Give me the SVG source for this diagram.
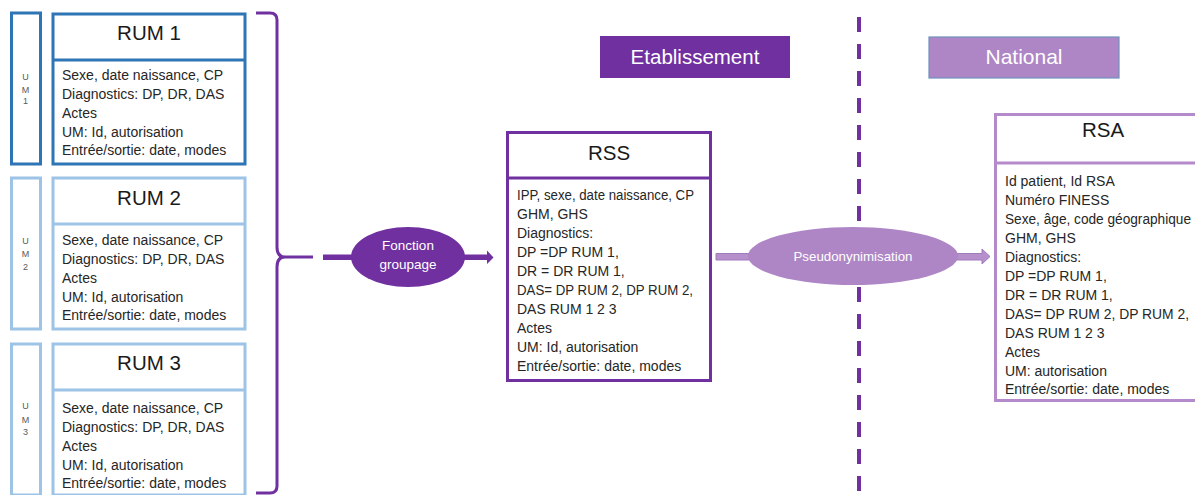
<svg xmlns="http://www.w3.org/2000/svg" width="1195" height="495" viewBox="0 0 1195 495">
<style>
.t{font-family:"Liberation Sans",Arial,sans-serif;font-size:14px;fill:#262626}
.ttl{font-family:"Liberation Sans",Arial,sans-serif;font-size:20.5px;fill:#1a1a1a;text-anchor:middle}
.um{font-family:"Liberation Sans",Arial,sans-serif;font-size:9px;fill:#595959;text-anchor:middle}
.dk{fill:#fff;stroke:#2E75B6;stroke-width:3}
.lt{fill:#fff;stroke:#9DC3E6;stroke-width:3}
.w{font-family:"Liberation Sans",Arial,sans-serif;fill:#fff;text-anchor:middle}
</style>
<rect width="1195" height="495" fill="#fff"/>
<g id="um1"><rect class="dk" x="11.5" y="13" width="29" height="151"/><text class="um" x="25.5" y="80">U</text><text class="um" x="25.5" y="93">M</text><text class="um" x="25.5" y="104">1</text></g>
<g id="rum1"><rect class="dk" x="53" y="14" width="192" height="150"/><line x1="53" y1="60" x2="245" y2="60" stroke="#2E75B6" stroke-width="3"/>
<text class="ttl" x="149" y="40">RUM 1</text>
<text class="t" x="62" y="80">Sexe, date naissance, CP</text><text class="t" x="62" y="99">Diagnostics: DP, DR, DAS</text><text class="t" x="62" y="118">Actes</text><text class="t" x="62" y="136.5">UM: Id, autorisation</text><text class="t" x="62" y="155">Entrée/sortie: date, modes</text></g>
<g id="um2"><rect class="lt" x="11.5" y="178" width="29" height="151"/><text class="um" x="25.5" y="244">U</text><text class="um" x="25.5" y="257">M</text><text class="um" x="25.5" y="270">2</text></g>
<g id="rum2"><rect class="lt" x="53" y="178" width="192" height="151"/><line x1="53" y1="224" x2="245" y2="224" stroke="#9DC3E6" stroke-width="3"/>
<text class="ttl" x="149" y="205">RUM 2</text>
<text class="t" x="62" y="245">Sexe, date naissance, CP</text><text class="t" x="62" y="264">Diagnostics: DP, DR, DAS</text><text class="t" x="62" y="283">Actes</text><text class="t" x="62" y="301.5">UM: Id, autorisation</text><text class="t" x="62" y="320">Entrée/sortie: date, modes</text></g>
<g id="um3"><rect class="lt" x="11.5" y="344" width="29" height="151"/><text class="um" x="25.5" y="409">U</text><text class="um" x="25.5" y="423">M</text><text class="um" x="25.5" y="435">3</text></g>
<g id="rum3"><rect class="lt" x="53" y="344" width="192" height="151"/><line x1="53" y1="390" x2="245" y2="390" stroke="#9DC3E6" stroke-width="3"/>
<text class="ttl" x="149" y="370">RUM 3</text>
<text class="t" x="62" y="413">Sexe, date naissance, CP</text><text class="t" x="62" y="432">Diagnostics: DP, DR, DAS</text><text class="t" x="62" y="451">Actes</text><text class="t" x="62" y="469.5">UM: Id, autorisation</text><text class="t" x="62" y="488">Entrée/sortie: date, modes</text></g>
<g id="header-etab"><rect x="600" y="36" width="190" height="42" fill="#7030A0"/><text class="w" x="695" y="64" font-size="20.5">Etablissement</text></g>
<g id="header-national"><rect x="929" y="37" width="190" height="41" fill="#AE86C6" stroke="#6F91BF" stroke-width="1.2"/><text class="w" x="1024" y="64" font-size="21">National</text></g>
<g id="connectors">
<line x1="859" y1="17" x2="859" y2="495" stroke="#7030A0" stroke-width="4" stroke-dasharray="15 12"/>
<path d="M256 13 L270 13 Q277 13 277 20 L277 247 Q277 257 285 257 Q277 257 277 267 L277 486 Q277 493 270 493 L256 493" fill="none" stroke="#7030A0" stroke-width="3"/>
<line x1="285" y1="257" x2="313" y2="257" stroke="#7030A0" stroke-width="3"/>
<polygon points="323,254.5 487,254.5 487,250.5 493.5,257.5 487,264 487,260 323,260" fill="#7030A0"/>
<polygon points="716,253.5 982,253.5 982,249 990,256.5 982,264 982,260 716,260" fill="#B590CB" stroke="#A07BBD" stroke-width="1"/>
</g>
<g id="fonction-groupage"><ellipse cx="408" cy="257" rx="57" ry="30" fill="#7030A0"/><text class="w" x="408" y="250" font-size="13.5">Fonction</text><text class="w" x="408" y="268.5" font-size="13.5">groupage</text></g>
<g id="pseudonymisation"><ellipse cx="853" cy="256" rx="105" ry="29" fill="#AE86C6"/><text class="w" x="853" y="261" font-size="13.3">Pseudonynimisation</text></g>
<g id="rss"><rect x="507.5" y="132.5" width="203" height="248" fill="#fff" stroke="#7030A0" stroke-width="3"/><line x1="507.5" y1="178" x2="710.5" y2="178" stroke="#7030A0" stroke-width="3"/>
<text class="ttl" x="609" y="160">RSS</text>
<text class="t" x="517" y="200" textLength="177" lengthAdjust="spacingAndGlyphs">IPP, sexe, date naissance, CP</text><text class="t" x="517" y="219">GHM, GHS</text><text class="t" x="517" y="238">Diagnostics:</text><text class="t" x="517" y="257">DP =DP RUM 1,</text><text class="t" x="517" y="276">DR = DR RUM 1,</text><text class="t" x="517" y="295" textLength="176" lengthAdjust="spacingAndGlyphs">DAS= DP RUM 2, DP RUM 2,</text><text class="t" x="517" y="314">DAS RUM 1 2 3</text><text class="t" x="517" y="333">Actes</text><text class="t" x="517" y="352">UM: Id, autorisation</text><text class="t" x="517" y="371">Entrée/sortie: date, modes</text></g>
<g id="rsa"><rect x="995.5" y="114.5" width="220" height="286" fill="#fff" stroke="#B48ACB" stroke-width="3"/><line x1="995.5" y1="163" x2="1215" y2="163" stroke="#B48ACB" stroke-width="3"/>
<text class="ttl" x="1103" y="137">RSA</text>
<text class="t" x="1005" y="186">Id patient, Id RSA</text><text class="t" x="1005" y="205">Numéro FINESS</text><text class="t" x="1005" y="224" textLength="186" lengthAdjust="spacingAndGlyphs">Sexe, âge, code géographique</text><text class="t" x="1005" y="243">GHM, GHS</text><text class="t" x="1005" y="261.5">Diagnostics:</text><text class="t" x="1005" y="280.5">DP =DP RUM 1,</text><text class="t" x="1005" y="299.5">DR = DR RUM 1,</text><text class="t" x="1005" y="318.5" textLength="184" lengthAdjust="spacingAndGlyphs">DAS= DP RUM 2, DP RUM 2,</text><text class="t" x="1005" y="337.5">DAS RUM 1 2 3</text><text class="t" x="1005" y="356.5">Actes</text><text class="t" x="1005" y="375.5">UM: autorisation</text><text class="t" x="1005" y="394">Entrée/sortie: date, modes</text></g>
</svg>
